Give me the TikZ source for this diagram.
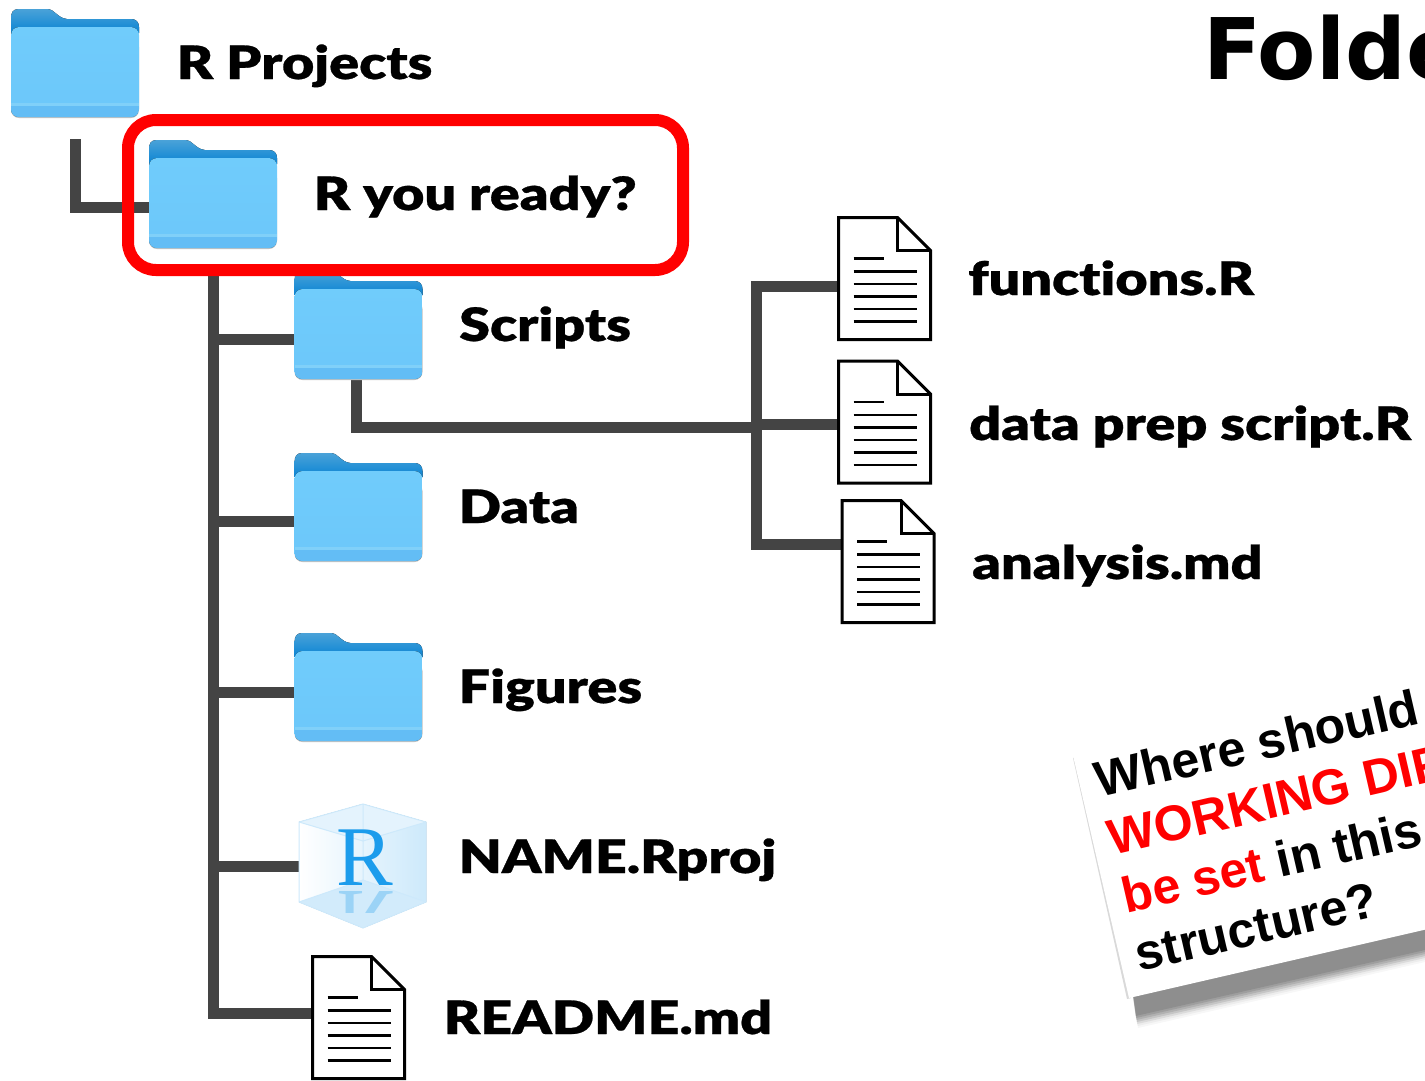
\documentclass[tikz,border=0pt]{standalone}
\usepackage{fontspec}
\setmainfont{Liberation Sans}
\newfontfamily\labfont[FakeStretch=1.21,FakeBold=0.6,Ligatures=NoCommon]{Lato Black}
\newfontfamily\rfont{Liberation Serif}
\newfontfamily\titlefont{DejaVu Sans Bold}
\usetikzlibrary{backgrounds,calc}
\definecolor{conn}{HTML}{444444}
\definecolor{fronttop}{HTML}{70CCFB}
\definecolor{frontbot}{HTML}{6CC7FA}
\definecolor{fband}{HTML}{80D0F9}
\definecolor{fedge}{HTML}{63BDF5}
\definecolor{backtop}{HTML}{4AA2D8}
\definecolor{backbot}{HTML}{0A84D4}
\definecolor{rblue}{HTML}{1C9CEC}
\tikzset{
  x=1pt,y=-1pt,
  connector/.style={draw=conn,line width=11pt,line join=miter},
  iconbox/.style={inner sep=0pt,outer sep=0pt,minimum width=128pt,minimum height=108pt},
  docbox/.style={inner sep=0pt,outer sep=0pt,minimum width=92pt,minimum height=122pt},
  lab/.style={anchor=base west,inner sep=0pt,font=\labfont\fontsize{46}{50}\selectfont},
  docline/.style={draw=black,line width=2.6pt},
}
\newcommand\myfolder[3]{%
  \node[iconbox] (#1) at (#2+64,#3+54) {};
  \begin{scope}[shift={(#2,#3)}]
    \fill[top color=backtop,bottom color=backbot]
      (0,10) .. controls (0,3) and (2,0) .. (8,0) -- (36,0) .. controls (44,0) and (46,9) .. (56,10)
      -- (120,10) .. controls (125,10) and (128,13) .. (128,18) -- (128,24) -- (0,24) -- cycle;
    \fill[gray!50,rounded corners=8pt] (0,30) rectangle (128,109);
    \begin{scope}
      \clip[rounded corners=8pt] (0,18) rectangle (128,108);
      \fill[top color=fronttop,bottom color=frontbot] (0,18) rectangle (128,108);
      \fill[fedge] (0,97) rectangle (128,108);
      \fill[fband] (0,94) rectangle (128,97);
    \end{scope}
  \end{scope}}
\newcommand\mydoc[3]{%
  \node[docbox] (#1) at (#2+46,#3+61) {};
  \begin{scope}[shift={(#2,#3)}]
    \draw[fill=white,line width=3pt,line join=miter]
      (0,0) -- (59,0) -- (92,33) -- (92,122) -- (0,122) -- cycle;
    \draw[line width=3pt,line join=miter] (59,0) -- (59,33) -- (92,33);
    \draw[docline] (15,41) -- (45,41);
    \foreach \yy in {54,66.5,79,91.5,104}{\draw[docline] (15,\yy) -- (78,\yy);}
  \end{scope}}
\begin{document}
\begin{tikzpicture}
\useasboundingbox (0,0) rectangle (1425,1080);
\begin{scope}
\clip (0,0) rectangle (1425,1080);
% folders
\myfolder{fa}{11}{9}
\myfolder{fb}{149}{140}
\myfolder{fc}{294.5}{271}
\myfolder{fd}{294.5}{453}
\myfolder{fe}{294.5}{633}
% R project icon
\node[inner sep=0pt,outer sep=0pt,minimum width=127pt,minimum height=124pt] (rp) at (362.5,866) {};
\fill[left color=white,right color=rblue!22] (363,804) -- (426,822) -- (426,902) -- (363,928) -- (299,902) -- (299,822) -- cycle;
\fill[rblue!12] (363,804) -- (426,822) -- (363,841) -- (299,822) -- cycle;
\fill[rblue!20] (363,880) -- (426,902) -- (363,928) -- (299,902) -- cycle;
\draw[rblue!22,line width=1pt] (363,804) -- (426,822) -- (426,902) -- (363,928) -- (299,902) -- (299,822) -- cycle
  (299,822) -- (363,841) -- (426,822) (363,804) -- (363,880) (299,902) -- (363,880) -- (426,902);
\begin{scope}
  \clip (299,888) rectangle (426,912);
  \node[inner sep=0pt,anchor=base,text=rblue,opacity=.3,yscale=-1,transform shape,font=\rfont\fontsize{85}{85}\selectfont] (rpr) at (365,891) {R};
\end{scope}
\node[inner sep=0pt,anchor=base,text=rblue,font=\rfont\fontsize{85}{85}\selectfont] (rpl) at (365,885) {R};
% documents
\mydoc{da}{838.5}{217.5}
\mydoc{db}{838.5}{361}
\mydoc{dc}{842}{500.5}
\mydoc{dd}{312.5}{956.5}
% red box
\node[draw=red,line width=12pt,rounded corners=28pt,minimum width=555pt,minimum height=150pt,inner sep=0pt,outer sep=0pt] (box) at (405.5,195) {};
% connectors
\begin{scope}[on background layer]
  \coordinate (rootend) at (75.5,139);
  \coordinate (hub) at (756.5,427);
  \coordinate (dbin) at ([yshift=-2pt]db.west);
  \draw[connector] (rootend) |- ([yshift=-13pt]fb.west);
  \draw[connector] (fb.south |- box.south) |- ([yshift=4.5pt]dd.west);
  \draw[connector] (fb.south |- fc.west) ++(0,14) -- ([yshift=-14pt]fc.west);
  \draw[connector] (fb.south |- fd.west) ++(0,14) -- ([yshift=-14pt]fd.west);
  \draw[connector] (fb.south |- fe.west) ++(0,5) -- ([yshift=-5pt]fe.west);
  \draw[connector] (fb.south |- rp.west) -- (rp.west);
  \draw[connector] ([xshift=-2.5pt]fc.south) |- (hub);
  \draw[connector] ([yshift=-7.5pt]da.west) -| (hub) |- ([yshift=17.5pt]dc.west);
  \draw[connector] (dbin) -- (hub |- dbin);
\end{scope}
% labels
\node[lab] (ta) at (176.5,79) {R Projects};
\node[lab] (tb) at (313.5,210) {R you ready?};
\node[lab] (tc) at (459,341) {Scripts};
\node[lab] (td) at (458.5,523) {Data};
\node[lab] (te) at (458.5,703) {Figures};
\node[lab] (tf) at (458.5,873) {NAME.Rproj};
\node[lab] (tg) at (443.5,1034) {README.md};
\node[lab] (th) at (968,295) {functions.R};
\node[lab] (ti) at (969,440) {data prep script.R};
\node[lab] (tj) at (972,579) {analysis.md};
% title
\node[anchor=base west,inner sep=0pt,font=\titlefont\fontsize{85}{90}\selectfont] (title) at (1203,79) {Folde};
% note card
\foreach \d/\o in {18/.10,20/.10,22/.10,24/.10,26/.08,28/.04,30/.03}{
  \fill[black,opacity=\o] (1132+.2*\d,998+\d) -- (1425,932+\d) -- (1425,700) -- (1100,760) -- cycle;
}
\fill[gray!30] (1073,758) -- (1127,999) -- (1131,998) -- (1076,757) -- cycle;
\node[anchor=south west,rotate=13,fill=white,inner sep=0pt,outer sep=0pt,minimum width=420pt,minimum height=247pt] (card) at (1129,998) {};
\node[anchor=base west,inner sep=0pt,rotate=13,align=left,font=\bfseries\fontsize{50}{59.5}\selectfont] (notetext) at (1139.5,971.5)
  {Where should\\\textcolor{red}{WORKING DIR}\\\textcolor{red}{be set} in this\\structure?};
\end{scope}
\end{tikzpicture}
\end{document}
